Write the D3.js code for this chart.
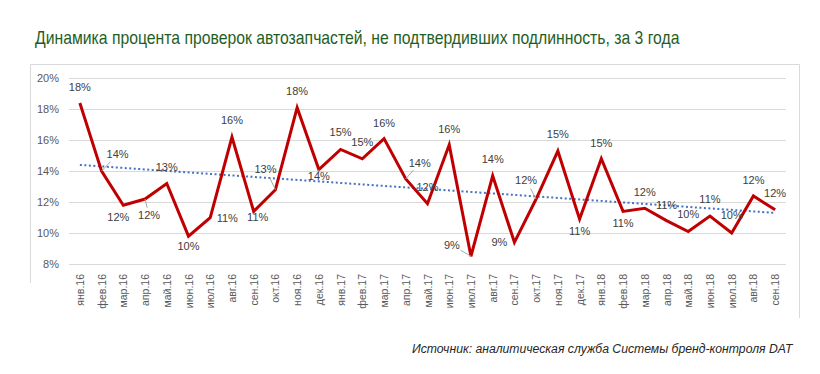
<!DOCTYPE html>
<html>
<head>
<meta charset="utf-8">
<script src="https://cdn.jsdelivr.net/npm/d3@7"></script>
<style>
  body { margin: 0; background: #fff; }
  svg { display: block; }
</style>
</head>
<body>
<div id="chart"></div>
<script>
// months of the period
const months = [
  "янв.16", "фев.16", "мар.16", "апр.16", "май.16", "июн.16", "июл.16", "авг.16", "сен.16", "окт.16", "ноя.16", "дек.16",
  "янв.17", "фев.17", "мар.17", "апр.17", "май.17", "июн.17", "июл.17", "авг.17", "сен.17", "окт.17", "ноя.17", "дек.17",
  "янв.18", "фев.18", "мар.18", "апр.18", "май.18", "июн.18", "июл.18", "авг.18", "сен.18"
];

// share of failed checks, %
const values = [
  18.4, 14.0, 11.8, 12.2, 13.2, 9.8, 11.0, 16.2, 11.4, 12.8, 18.1, 14.1,
  15.4, 14.8, 16.1, 13.5, 11.9, 15.7, 8.5, 13.7, 9.4, 12.2, 15.3, 10.9,
  14.8, 11.4, 11.6, 10.8, 10.1, 11.1, 10.0, 12.4, 11.5
];

const yTicks = [8, 10, 12, 14, 16, 18, 20];

// label placement relative to the point (px)
const labelOffsets = [
  [0, -16], [16, -17], [-5, 12], [4, 16], [0, -17], [0, 10], [17, 0], [0, -17], [4, 6], [-10, -21], [0, -17], [0, 6],
  [0, -17], [0, -17], [0, -16], [14, -16], [0, -17], [0, -16], [-19, -11], [0, -17], [-15, 0], [-10, -19], [0, -17], [0, 12],
  [0, -16], [0, 12], [0, -16], [0, -16], [0, -18], [0, -17], [0, -18], [0, -16], [0, -17]
];
const leaders = [1, 3, 9, 11, 15, 18, 21];

const W = 820, H = 374;
const svg = d3.select("#chart").append("svg").attr("width", W).attr("height", H);

// squeeze a text horizontally to a target width (no narrow font installed)
function squeeze(sel, x0, y0, w) {
  const len = sel.node().getComputedTextLength();
  sel.attr("transform", `translate(${x0},${y0}) scale(${w / len},1)`);
}

// title
svg.append("text")
  .style("font-family", "'Liberation Sans', Arial, sans-serif")
  .style("font-size", "17.5px")
  .style("fill", "#1f5e1f")
  .text("Динамика процента проверок автозапчастей, не подтвердивших подлинность, за 3 года")
  .call(squeeze, 35, 44, 645);

// chart frame (left, top, right)
svg.append("path")
  .attr("d", "M30.5,283 V64.5 H799.5 V318")
  .attr("fill", "none").attr("stroke", "#d9d9d9").attr("stroke-width", 1);

const plotLeft = 69, plotRight = 786, plotTop = 78.3, plotBottom = 264;

const x = d3.scalePoint().domain(months).range([plotLeft, plotRight]).padding(0.5);
const y = d3.scaleLinear().domain([8, 20]).range([plotBottom, plotTop]);

// grid
svg.append("g").selectAll("line").data(yTicks).join("line")
  .attr("x1", plotLeft).attr("x2", plotRight)
  .attr("y1", d => Math.round(y(d)) + 0.5).attr("y2", d => Math.round(y(d)) + 0.5)
  .attr("stroke", "#d9d9d9").attr("stroke-width", 1);

// y labels
svg.append("g").selectAll("text").data(yTicks).join("text")
  .attr("x", 59).attr("y", d => y(d) + 4)
  .attr("text-anchor", "end")
  .style("font-family", "'Liberation Sans', Arial, sans-serif")
  .style("font-size", "11px")
  .style("fill", "#595959")
  .text(d => d + "%");

// x labels, rotated
svg.append("g").selectAll("text").data(months).join("text")
  .attr("transform", d => `translate(${x(d) + 4},274) rotate(-90)`)
  .attr("text-anchor", "end")
  .style("font-family", "'Liberation Sans', Arial, sans-serif")
  .style("font-size", "10.5px")
  .style("fill", "#595959")
  .text(d => d);

// linear trend
const n = values.length;
const mx = d3.mean(values, (v, i) => i);
const my = d3.mean(values);
const slope = d3.sum(values, (v, i) => (i - mx) * (v - my)) / d3.sum(values, (v, i) => (i - mx) * (i - mx));
const icpt = my - slope * mx;
svg.append("line")
  .attr("x1", x(months[0])).attr("y1", y(icpt))
  .attr("x2", x(months[n - 1])).attr("y2", y(icpt + slope * (n - 1)))
  .attr("stroke", "#4472c4").attr("stroke-width", 2)
  .attr("stroke-dasharray", "2,2.5");

// main line
const line = d3.line()
  .x((d, i) => x(months[i]))
  .y(d => y(d));

svg.append("path")
  .datum(values)
  .attr("d", line)
  .attr("fill", "none")
  .attr("stroke", "#c00000")
  .attr("stroke-width", 3)
  .attr("stroke-linejoin", "miter");

// leader lines
svg.append("g").selectAll("line").data(leaders).join("line")
  .attr("x1", i => x(months[i]))
  .attr("y1", i => y(values[i]))
  .attr("x2", i => x(months[i]) + labelOffsets[i][0] * 0.55)
  .attr("y2", i => y(values[i]) + labelOffsets[i][1] * 0.55)
  .attr("stroke", "#a6a6a6").attr("stroke-width", 1);

// data labels
svg.append("g").selectAll("text").data(values).join("text")
  .attr("x", (d, i) => x(months[i]) + labelOffsets[i][0])
  .attr("y", (d, i) => y(d) + labelOffsets[i][1] + 4)
  .attr("text-anchor", "middle")
  .style("font-family", "'Liberation Sans', Arial, sans-serif")
  .style("font-size", "11px")
  .style("fill", "#404040")
  .text(d => Math.round(d) + "%");

// source
svg.append("text")
  .style("font-family", "'Liberation Sans', Arial, sans-serif")
  .style("font-size", "13.5px")
  .style("font-style", "italic")
  .style("fill", "#262626")
  .text("Источник: аналитическая служба Системы бренд-контроля DAT")
  .call(squeeze, 412, 353, 381);
</script>
</body>
</html>
